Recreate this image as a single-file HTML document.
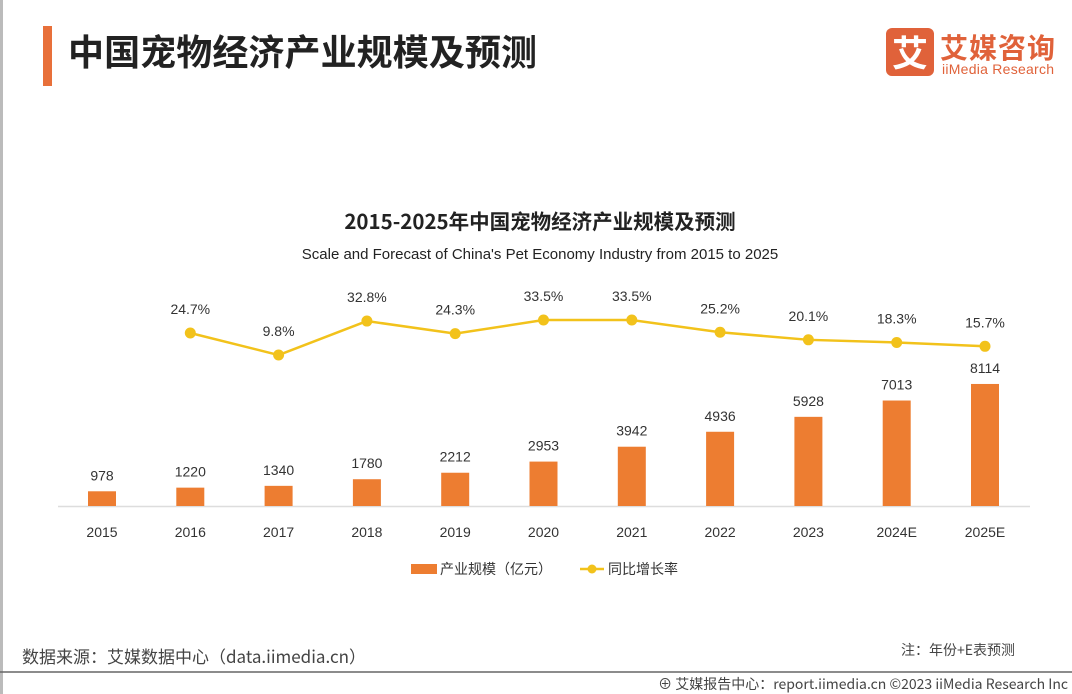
<!DOCTYPE html>
<html><head><meta charset="utf-8"><style>
body{margin:0;width:1072px;height:694px;background:#fff;overflow:hidden;font-family:"Liberation Sans","Noto Sans CJK SC",sans-serif;}
svg{display:block}
</style></head><body>
<svg width="1072" height="694">
<rect x="0" y="0" width="3" height="694" fill="#bbb"/>
<rect x="43" y="26" width="9" height="60" fill="#e8703a"/>
<text x="68" y="65" font-size="36" font-weight="bold" fill="#222" font-family="Noto Sans CJK SC, sans-serif" textLength="469">中国宠物经济产业规模及预测</text>
<g>
<rect x="886" y="28" width="48" height="48" rx="6" fill="#e0623a"/>
<text x="910" y="66" font-size="36" font-weight="bold" fill="#fff" text-anchor="middle" font-family="Noto Sans CJK SC, sans-serif">艾</text>
<text x="940" y="58" font-size="28" font-weight="bold" fill="#e0623a" font-family="Noto Sans CJK SC, sans-serif" textLength="115">艾媒咨询</text>
<text x="942" y="74" font-size="14" fill="#e0623a" textLength="112">iiMedia Research</text>
</g>
<text x="540" y="229" font-size="20.5" font-weight="bold" fill="#222" text-anchor="middle" font-family="Noto Sans CJK SC, sans-serif">2015-2025年中国宠物经济产业规模及预测</text>
<text x="540" y="259" font-size="15" fill="#222" text-anchor="middle">Scale and Forecast of China's Pet Economy Industry from 2015 to 2025</text>
<line x1="58" y1="506.5" x2="1030" y2="506.5" stroke="#ddd" stroke-width="1.5"/>
<g id="bars"></g><g id="line"></g><g id="labels"></g>
<g>
<rect x="411" y="564" width="26" height="10" fill="#ed7d31"/>
<text x="440" y="574" font-size="14" fill="#333" font-family="Noto Sans CJK SC, sans-serif">产业规模（亿元）</text>
<line x1="580" y1="569" x2="604" y2="569" stroke="#f2c21b" stroke-width="2.5"/>
<circle cx="592" cy="569" r="4.5" fill="#f2c21b"/>
<text x="608" y="574" font-size="14" fill="#333" font-family="Noto Sans CJK SC, sans-serif">同比增长率</text>
</g>
<text x="22" y="663" font-size="17" fill="#444" font-family="Noto Sans CJK SC, sans-serif">数据来源：艾媒数据中心（data.iimedia.cn）</text>
<text x="1015" y="655" font-size="14" fill="#444" text-anchor="end" font-family="Noto Sans CJK SC, sans-serif">注：年份+E表预测</text>
<line x1="0" y1="672" x2="1072" y2="672" stroke="#666" stroke-width="1.5"/>
<text x="1068" y="689" font-size="14" fill="#444" text-anchor="end" font-family="Noto Sans CJK SC, sans-serif">⊕ 艾媒报告中心：report.iimedia.cn  ©2023  iiMedia Research Inc</text>
</svg>
<script>
const categories=["2015","2016","2017","2018","2019","2020","2021","2022","2023","2024E","2025E"];
const sizeValues=[978,1220,1340,1780,2212,2953,3942,4936,5928,7013,8114];
const growthValues=[null,24.7,9.8,32.8,24.3,33.5,33.5,25.2,20.1,18.3,15.7];
const NS="http://www.w3.org/2000/svg";
function xPos(i){return 102+i*88.3;}
function yBar(v){return 506-v*0.01504;}
function yLine(v){return 369.5-v*1.477;}
function mk(tag,attrs,parent,txt){const e=document.createElementNS(NS,tag);for(const k in attrs)e.setAttribute(k,attrs[k]);if(txt!=null)e.textContent=txt;document.getElementById(parent).appendChild(e);return e;}
const pts=[];
categories.forEach((c,i)=>{
 const x=xPos(i),v=sizeValues[i],t=yBar(v);
 const b=mk('rect',{x:x-14,y:t,width:28,height:506-t,fill:'#ed7d31'},'bars');
 
 
 const l=mk('text',{x:x,y:t-11,'font-size':14,fill:'#333','text-anchor':'middle'},'labels',String(v));
 
 
 const xl=mk('text',{x:x,y:537,'font-size':14,fill:'#333','text-anchor':'middle'},'labels',c);
 
 
 if(growthValues[i]!=null)pts.push([x,yLine(growthValues[i]),growthValues[i],c]);
});
const pl=mk('polyline',{points:pts.map(p=>p[0]+','+p[1]).join(' '),fill:'none',stroke:'#f2c21b','stroke-width':2.5},'line');


pts.forEach(p=>{
 const d=mk('circle',{cx:p[0],cy:p[1],r:5.5,fill:'#f2c21b'},'line');
 
 
 const t=mk('text',{x:p[0],y:p[1]-19,'font-size':14,fill:'#333','text-anchor':'middle'},'labels',p[2].toFixed(1)+'%');
 
 
});
</script>
</body></html>
